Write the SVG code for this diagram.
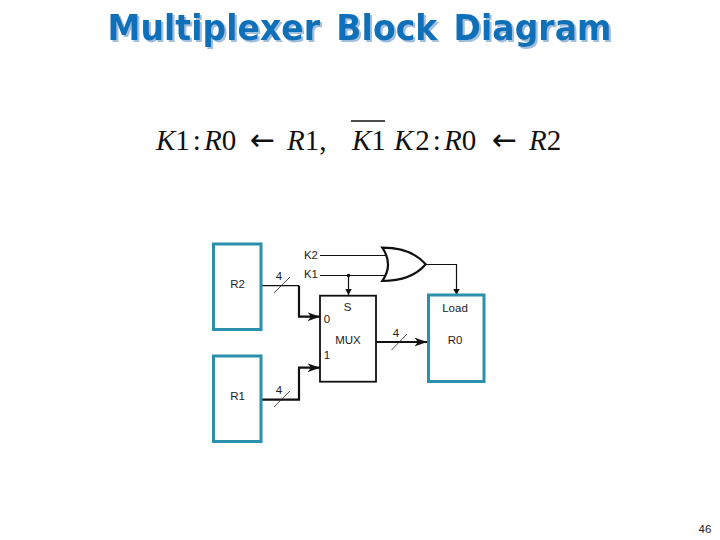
<svg xmlns="http://www.w3.org/2000/svg" width="720" height="540" viewBox="0 0 720 540">
<style>
.title{font-family:"DejaVu Sans",sans-serif;font-weight:bold;font-size:35px;word-spacing:5px}
.eq{font-family:"Liberation Serif",serif;font-size:29px;fill:#111}
.ar{font-family:"DejaVu Sans",sans-serif;font-size:30px;fill:#111}
.i{font-style:italic}
.l{font-family:"Liberation Sans",sans-serif;font-size:11.5px;fill:#222;text-anchor:middle}
.reg{fill:#fff;stroke:#2a90ad;stroke-width:3}
.w{fill:none;stroke:#111;stroke-width:1.2}
.b{fill:none;stroke:#111;stroke-width:2.2}
.s{fill:none;stroke:#222;stroke-width:.8}
</style>
<defs>
<filter id="sh" x="-5%" y="-20%" width="110%" height="150%"><feDropShadow dx="2" dy="2" stdDeviation=".6" flood-color="#9fbfdc"/></filter>
<marker id="big" markerUnits="userSpaceOnUse" markerWidth="14" markerHeight="10" refX="12.500" refY="5" orient="auto"><path d="M0,0.500 L12.500,5 L0,9.500 L3.500,5 Z" fill="#111"/></marker>
<marker id="sm" markerUnits="userSpaceOnUse" markerWidth="8" markerHeight="7" refX="6.500" refY="3.500" orient="auto"><path d="M0,0 L6.500,3.500 L0,7 Z" fill="#111"/></marker>
</defs>
<rect width="720" height="540" fill="#fff"/>
<g id="title">
<text class="title" x="359.500" y="40" fill="#0f6fb8" text-anchor="middle" textLength="504" lengthAdjust="spacingAndGlyphs" filter="url(#sh)">Multiplexer Block Diagram</text>
</g>
<g id="equation">
<text class="eq" x="156" y="150"><tspan class="i">K</tspan>1<tspan dx="3">:</tspan><tspan class="i" dx="3">R</tspan>0</text>
<text class="ar" x="250" y="150">←</text>
<text class="eq" x="287" y="150"><tspan class="i">R</tspan>1,</text>
<text class="eq" x="352" y="150"><tspan class="i">K</tspan>1</text>
<line x1="351" y1="121" x2="385" y2="121" stroke="#111" stroke-width="1.300"/>
<text class="eq" x="394" y="150"><tspan class="i">K</tspan><tspan dx="2">2</tspan><tspan dx="3">:</tspan><tspan class="i" dx="3">R</tspan>0</text>
<text class="ar" x="492" y="150">←</text>
<text class="eq" x="529" y="150"><tspan class="i">R</tspan>2</text>
</g>
<g id="connectors">
<path class="w" d="M320,255.500H387"/>
<path class="w" d="M320,275.500H387"/>
<path class="w" d="M348.500,275.500V295" marker-end="url(#sm)"/>
<circle cx="348.500" cy="275.500" r="1.800" fill="#111"/>
<path class="w" d="M425.700,264.500H456.500V295" marker-end="url(#sm)"/>
<path class="w" d="M262,285.700H299"/>
<path class="b" d="M299,285.700V316.700H320" marker-end="url(#big)"/>
<path class="b" d="M262,399.700H299V367.700H320" marker-end="url(#big)"/>
<path class="b" d="M376,342H427" marker-end="url(#big)"/>
<path class="s" d="M274,293L290,277"/>
<path class="s" d="M274,407L290,391"/>
<path class="s" d="M391.500,350L407,334"/>
</g>
<g id="or-gate"><path d="M382.300,247.700C400,247.700 415,252 425.700,264.300C415,277 400,281 382.300,281C390,270 390,259 382.300,247.700Z" fill="#fff" stroke="#111" stroke-width="2.200"/></g>
<g id="R2"><rect class="reg" x="213.500" y="244" width="47.500" height="85.500"/><text class="l" x="237.500" y="288">R2</text></g>
<g id="R1"><rect class="reg" x="213.500" y="356" width="47.500" height="85.500"/><text class="l" x="237.500" y="400">R1</text></g>
<g id="MUX"><rect x="320" y="295.700" width="56" height="86" fill="none" stroke="#111" stroke-width="1.800"/>
<text class="l" x="347.500" y="311">S</text><text class="l" x="348" y="344">MUX</text><text class="l" x="327" y="323">0</text><text class="l" x="327" y="359">1</text></g>
<g id="R0"><rect class="reg" x="428.500" y="295" width="55.500" height="86.500" fill="none"/><text class="l" x="455" y="312">Load</text><text class="l" x="455" y="344">R0</text></g>
<g id="labels">
<text class="l" x="311" y="259">K2</text><text class="l" x="311" y="278">K1</text>
<text class="l" x="279" y="280">4</text><text class="l" x="279" y="394">4</text><text class="l" x="396" y="337">4</text>
<text class="l" x="705" y="533">46</text>
</g>
</svg>
